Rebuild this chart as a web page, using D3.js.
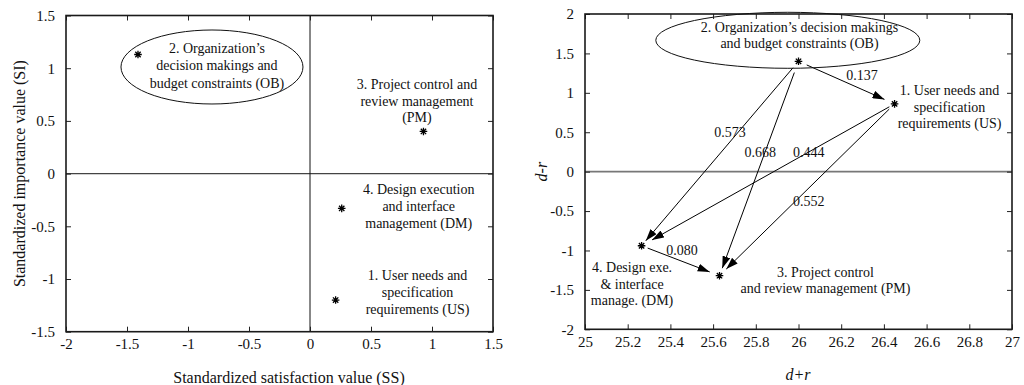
<!DOCTYPE html>
<html>
<head>
<meta charset="utf-8">
<script src="https://cdn.jsdelivr.net/npm/d3@7/dist/d3.min.js"></script>
<style>
  html, body { margin: 0; padding: 0; background: #fff; }
  svg { display: block; }
  text { font-family: "Liberation Serif", "Times New Roman", serif; fill: #111; }
</style>
</head>
<body>
<svg id="chart" width="1024" height="385"></svg>
<script>
// ---------------- DATA ----------------
// Left chart: standardized satisfaction (SS) vs standardized importance (SI)
const leftCodes = ["US", "OB", "PM", "DM"];
const leftSS = [0.21, -1.41, 0.93, 0.26];
const leftSI = [-1.20, 1.13, 0.40, -0.33];
const leftLabels = [
  ["1. User needs and", "specification", "requirements (US)"],
  ["2. Organization\u2019s", "decision makings and", "budget constraints (OB)"],
  ["3. Project control and", "review management", "(PM)"],
  ["4. Design execution", "and interface", "management (DM)"]
];
const leftXTicks = [-2, -1.5, -1, -0.5, 0, 0.5, 1, 1.5];
const leftYTicks = [-1.5, -1, -0.5, 0, 0.5, 1, 1.5];
const leftXTitle = "Standardized satisfaction value (SS)";
const leftYTitle = "Standardized importance value (SI)";

// Right chart: d+r vs d-r with influence arrows
const rightCodes = ["US", "OB", "PM", "DM"];
const rightDplusR = [26.45, 26.00, 25.63, 25.265];
const rightDminusR = [0.86, 1.40, -1.32, -0.94];
const rightLabels = [
  ["1. User needs and", "specification", "requirements (US)"],
  ["2. Organization\u2019s decision makings", "and budget constraints (OB)"],
  ["3. Project control", "and review management (PM)"],
  ["4. Design exe.", "& interface", "manage. (DM)"]
];
const arrowFrom = ["OB", "OB", "OB", "US", "US", "DM"];
const arrowTo = ["US", "DM", "PM", "DM", "PM", "PM"];
const arrowValues = [0.137, 0.573, 0.668, 0.444, 0.552, 0.080];
const rightXTicks = [25, 25.2, 25.4, 25.6, 25.8, 26, 26.2, 26.4, 26.6, 26.8, 27];
const rightYTicks = [-2, -1.5, -1, -0.5, 0, 0.5, 1, 1.5, 2];
const rightXTitle = "d+r";
const rightYTitle = "d-r";

// ---------------- LAYOUT / STYLE ----------------
const FONT = 14;       // annotations
const TICKFONT = 15;   // tick labels
const TITLEFONT = 16;  // axis titles
const leftBox = { x0: 66, x1: 493, y0: 15.5, y1: 331.7 };
const rightBox = { x0: 585, x1: 1012, y0: 14, y1: 329.3 };
const leftLabelLayout = {
  US: { dx: 82, dy: -25, lh: 17 },
  OB: { dx: 79, dy: -6.5, lh: 17.5, ellipse: { dx: 74, dy: 12.5, rx: 91, ry: 37 } },
  PM: { dx: -6.5, dy: -47, lh: 16.5 },
  DM: { dx: 77, dy: -19, lh: 17 }
};
const rightLabelLayout = {
  US: { dx: 55, dy: -13.5, lh: 16.5 },
  OB: { dx: 1, dy: -34.5, lh: 16.5, ellipse: { dx: -10.7, dy: -21, rx: 132, ry: 28 } },
  PM: { dx: 106, dy: -3.7, lh: 16.5 },
  DM: { dx: -9.5, dy: 21.5, lh: 16.5 }
};
const arrowLayout = [
  { g0: 9, g1: 11, t: 0.5, dx: 15.5, dy: -7 },
  { g0: 8.5, g1: 6.5, t: 0.383, dx: -8.4, dy: 0 },
  { g0: 12, g1: 8, t: 0.422, dx: -5, dy: 0 },
  { g0: 6, g1: 12, t: 0.339, dx: 0, dy: 0 },
  { g0: 7.5, g1: 9.5, t: 0.49, dx: 0, dy: 12.7 },
  { g0: 6.5, g1: 10.5, t: 0.5, dx: 1.4, dy: -10.7 }
];

const svg = d3.select("#chart");
const numFmt = d => String(d);

svg.append("defs").append("marker")
  .attr("id", "arrowhead")
  .attr("markerUnits", "userSpaceOnUse")
  .attr("viewBox", "0 0 12 8")
  .attr("refX", 12).attr("refY", 4)
  .attr("markerWidth", 12).attr("markerHeight", 8)
  .attr("orient", "auto")
  .append("path").attr("d", "M0,0 L12,4 L0,8 Z").attr("fill", "#000");

function drawFrame(g, box, x, y, xTicks, yTicks) {
  const tk = 5;
  const ax = g.append("g").attr("transform", `translate(0,${box.y1})`)
    .call(d3.axisBottom(x).tickValues(xTicks).tickSizeInner(-tk).tickSizeOuter(0).tickPadding(7).tickFormat(numFmt));
  const at = g.append("g").attr("transform", `translate(0,${box.y0})`)
    .call(d3.axisTop(x).tickValues(xTicks).tickSizeInner(-tk).tickSizeOuter(0).tickFormat(""));
  const al = g.append("g").attr("transform", `translate(${box.x0},0)`)
    .call(d3.axisLeft(y).tickValues(yTicks).tickSizeInner(-tk).tickSizeOuter(0).tickPadding(11).tickFormat(numFmt));
  const ar = g.append("g").attr("transform", `translate(${box.x1},0)`)
    .call(d3.axisRight(y).tickValues(yTicks).tickSizeInner(-tk).tickSizeOuter(0).tickFormat(""));
  [ax, at, al, ar].forEach(a => {
    a.select(".domain").remove();
    a.selectAll(".tick line").attr("stroke", "#222").attr("stroke-width", 1);
    a.selectAll("text").attr("font-size", TICKFONT).attr("font-family", "Liberation Serif, Times New Roman, serif").attr("fill", "#111");
  });
  g.append("rect")
    .attr("x", box.x0).attr("y", box.y0)
    .attr("width", box.x1 - box.x0).attr("height", box.y1 - box.y0)
    .attr("fill", "none").attr("stroke", "#1a1a1a").attr("stroke-width", 1.6);
}

function drawLabel(g, px, py, lines, lay) {
  if (lay.ellipse) {
    g.append("ellipse")
      .attr("cx", px + lay.ellipse.dx).attr("cy", py + lay.ellipse.dy)
      .attr("rx", lay.ellipse.rx).attr("ry", lay.ellipse.ry)
      .attr("fill", "none").attr("stroke", "#111").attr("stroke-width", 1);
  }
  const t = g.append("text").attr("text-anchor", "middle").attr("font-size", FONT);
  lines.forEach((s, i) => {
    t.append("tspan").attr("x", px + lay.dx).attr("y", py + lay.dy + i * lay.lh).attr("dy", "0.35em").text(s);
  });
}

// 8-arm asterisk symbol type
const asterisk8 = {
  draw(context, size) {
    const r = Math.sqrt(size) * 0.6;
    const d = r * Math.SQRT1_2;
    context.moveTo(0, -r); context.lineTo(0, r);
    context.moveTo(-r, 0); context.lineTo(r, 0);
    context.moveTo(-d, -d); context.lineTo(d, d);
    context.moveTo(-d, d); context.lineTo(d, -d);
  }
};
const star = d3.symbol().type(asterisk8).size(40);

// ---------------- LEFT CHART ----------------
{
  const box = leftBox;
  const x = d3.scaleLinear().domain([-2, 1.5]).range([box.x0, box.x1]);
  const y = d3.scaleLinear().domain([-1.5, 1.5]).range([box.y1, box.y0]);
  const g = svg.append("g");
  g.append("line").attr("x1", box.x0).attr("x2", box.x1).attr("y1", y(0)).attr("y2", y(0))
    .attr("stroke", "#444").attr("stroke-width", 1.3);
  g.append("line").attr("x1", x(0)).attr("x2", x(0)).attr("y1", box.y0).attr("y2", box.y1)
    .attr("stroke", "#111").attr("stroke-width", 1);
  drawFrame(g, box, x, y, leftXTicks, leftYTicks);

  leftCodes.forEach((c, i) => {
    const px = x(leftSS[i]), py = y(leftSI[i]);
    g.append("path").attr("d", star).attr("transform", `translate(${px},${py})`)
      .attr("fill", "none").attr("stroke", "#000").attr("stroke-width", 1.3);
    drawLabel(g, px, py, leftLabels[i], leftLabelLayout[c]);
  });

  g.append("text").attr("x", 289).attr("y", 377).attr("dy", "0.35em")
    .attr("text-anchor", "middle").attr("font-size", TITLEFONT).text(leftXTitle);
  g.append("text").attr("transform", `translate(19,${(box.y0 + box.y1) / 2}) rotate(-90)`)
    .attr("dy", "0.35em").attr("text-anchor", "middle").attr("font-size", TITLEFONT).text(leftYTitle);
}

// ---------------- RIGHT CHART ----------------
{
  const box = rightBox;
  const x = d3.scaleLinear().domain([25, 27]).range([box.x0, box.x1]);
  const y = d3.scaleLinear().domain([-2, 2]).range([box.y1, box.y0]);
  const g = svg.append("g");
  g.append("line").attr("x1", box.x0).attr("x2", box.x1).attr("y1", y(0)).attr("y2", y(0))
    .attr("stroke", "#777").attr("stroke-width", 1.6);
  drawFrame(g, box, x, y, rightXTicks, rightYTicks);

  const pos = {};
  rightCodes.forEach((c, i) => { pos[c] = [x(rightDplusR[i]), y(rightDminusR[i])]; });

  arrowFrom.forEach((f, i) => {
    const [x0, y0] = pos[f], [x1, y1] = pos[arrowTo[i]];
    const L = arrowLayout[i];
    const dx = x1 - x0, dy = y1 - y0, len = Math.hypot(dx, dy);
    const ux = dx / len, uy = dy / len;
    g.append("line")
      .attr("x1", x0 + ux * L.g0).attr("y1", y0 + uy * L.g0)
      .attr("x2", x1 - ux * L.g1).attr("y2", y1 - uy * L.g1)
      .attr("stroke", "#000").attr("stroke-width", 1)
      .attr("marker-end", "url(#arrowhead)");
  });
  arrowFrom.forEach((f, i) => {
    const [x0, y0] = pos[f], [x1, y1] = pos[arrowTo[i]];
    const L = arrowLayout[i];
    g.append("text")
      .attr("x", x0 + (x1 - x0) * L.t + L.dx).attr("y", y0 + (y1 - y0) * L.t + L.dy)
      .attr("dy", "0.35em").attr("text-anchor", "middle").attr("font-size", FONT)
      .text(d3.format(".3f")(arrowValues[i]));
  });

  rightCodes.forEach((c, i) => {
    const [px, py] = pos[c];
    g.append("path").attr("d", star).attr("transform", `translate(${px},${py})`)
      .attr("fill", "none").attr("stroke", "#000").attr("stroke-width", 1.3);
    drawLabel(g, px, py, rightLabels[i], rightLabelLayout[c]);
  });

  g.append("text").attr("x", 798).attr("y", 374).attr("dy", "0.35em")
    .attr("text-anchor", "middle").attr("font-size", TITLEFONT).attr("font-style", "italic").text(rightXTitle);
  g.append("text").attr("transform", `translate(541,${y(0)}) rotate(-90)`)
    .attr("dy", "0.35em").attr("text-anchor", "middle").attr("font-size", TITLEFONT).attr("font-style", "italic").text(rightYTitle);
}
</script>
</body>
</html>
